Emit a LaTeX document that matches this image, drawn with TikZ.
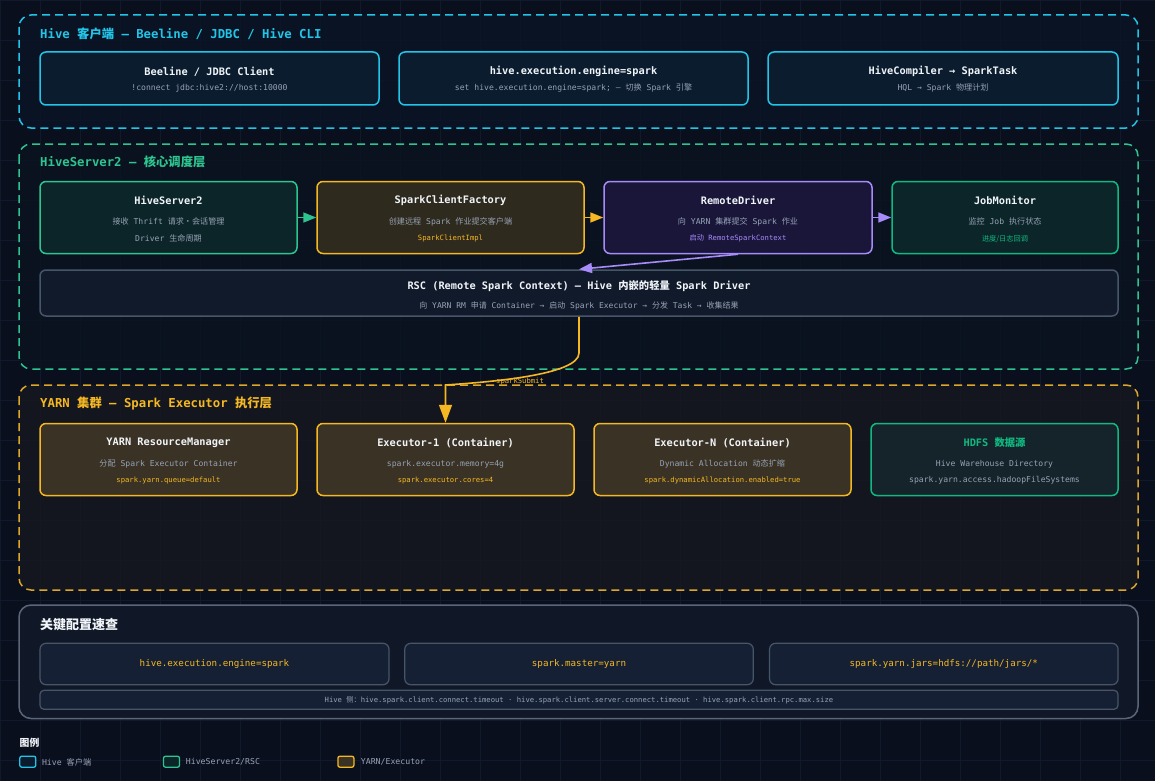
\documentclass[tikz,border=0pt]{standalone}
\usepackage{fontspec}
\setmainfont{DejaVu Sans Mono}
\newfontfamily\cjk{Noto Sans CJK SC}
\newcommand{\zh}[1]{{\cjk #1}}
\usepackage{tikz}
\usetikzlibrary{calc,positioning,arrows.meta}
\definecolor{bgc}{HTML}{0A0F1E}
\definecolor{gridc}{HTML}{111A2C}
\definecolor{cyanc}{HTML}{22C5E8}
\definecolor{greenc}{HTML}{2EC48F}
\definecolor{emeraldc}{HTML}{10B981}
\definecolor{amberc}{HTML}{F5B823}
\definecolor{amberdash}{HTML}{DCA72A}
\definecolor{purplec}{HTML}{A78BFA}
\definecolor{slatec}{HTML}{475569}
\definecolor{slateline}{HTML}{5B6779}
\definecolor{titlec}{HTML}{F1F5F9}
\definecolor{subc}{HTML}{97A3B6}
\definecolor{gonefill}{HTML}{0B1426}
\definecolor{gtwofill}{HTML}{0A1320}
\definecolor{gthreefill}{HTML}{16181F}
\definecolor{gfourfill}{HTML}{101828}
\definecolor{clientfill}{HTML}{0A1C2E}
\definecolor{hsfill}{HTML}{0B2528}
\definecolor{scffill}{HTML}{2F2A1E}
\definecolor{rdfill}{HTML}{19163A}
\definecolor{rscfill}{HTML}{111A2A}
\definecolor{yarnfill}{HTML}{3A3224}
\definecolor{hdfsfill}{HTML}{15242A}
\definecolor{cfgfill}{HTML}{152034}
\tikzstyle{gridline}   = [draw=gridc, line width=0.5pt]
\tikzstyle{group}      = [line width=1.5pt, rounded corners=12pt, dash pattern=on 8pt off 5pt, fill opacity=0.8]
\tikzstyle{card}       = [draw, line width=1.5pt, rounded corners=6pt, inner sep=0pt]
\tikzstyle{grouptitle} = [anchor=west, inner sep=0pt, font=\fontsize{12.3}{14}\selectfont\bfseries]
\tikzstyle{cardtitle}  = [inner sep=0pt, text=titlec, font=\fontsize{10.3}{12}\selectfont\bfseries]
\tikzstyle{cardsub}    = [inner sep=0pt, text=subc, font=\fontsize{8.1}{10}\selectfont]
\tikzstyle{cardnote}   = [inner sep=0pt, font=\fontsize{7.2}{9}\selectfont]
\tikzstyle{cfgtext}    = [inner sep=0pt, text=amberc, font=\fontsize{9.2}{11}\selectfont]
\tikzstyle{swatch}     = [draw, line width=1.3pt, rounded corners=2pt, minimum width=16pt, minimum height=11pt, inner sep=0pt]
\tikzstyle{legendtext} = [anchor=west, inner sep=0pt, text=subc, font=\fontsize{8.2}{10}\selectfont]
\tikzstyle{arrow}      = [line width=1.6pt, -{Triangle[length=13pt,width=10pt]}]

\begin{document}
\begin{tikzpicture}[x=1pt,y=-1pt]
	\useasboundingbox (0,0) rectangle (1155,781);
	\fill[bgc] (0,0) rectangle (1155,781);
	\foreach \g in {0,40,...,1160} {\draw[gridline] (\g,0) -- (\g,781);}
	\foreach \g in {0,40,...,800} {\draw[gridline] (0,\g) -- (1155,\g);}

	% Hive client layer
	\draw[group, draw=cyanc, fill=gonefill] (19,15) rectangle (1138,128);
	\node[grouptitle, text=cyanc] (clientt) at (40,33.5) {Hive \zh{客户端} — Beeline / JDBC / Hive CLI};

	\node[card, draw=cyanc, fill=clientfill, minimum width=339pt, minimum height=53pt] (beeline) at (209.5,78.5) {};
	\node[card, draw=cyanc, fill=clientfill, minimum width=349pt, minimum height=53pt] (engine) at (573.5,78.5) {};
	\node[card, draw=cyanc, fill=clientfill, minimum width=350pt, minimum height=53pt] (compiler) at (943,78.5) {};
	\node[cardtitle] (beelinet) at (209.5,71.5) {Beeline / JDBC Client};
	\node[cardsub] (beelines) at (209.5,88.3) {!connect jdbc:hive2://host:10000};
	\node[cardtitle] (enginet) at (573.5,71.5) {hive.execution.engine=spark};
	\node[cardsub] (engines) at (573.5,88.3) {set hive.execution.engine=spark; — \zh{切换} Spark \zh{引擎}};
	\node[cardtitle] (compilert) at (943,71.5) {HiveCompiler → SparkTask};
	\node[cardsub] (compilers) at (943,88.3) {HQL → Spark \zh{物理计划}};

	% HiveServer2 layer
	\draw[group, draw=greenc, fill=gtwofill] (19,144) rectangle (1138,369);
	\node[grouptitle, text=greenc] (servert) at (40,162) {HiveServer2 — \zh{核心调度层}};

	\node[card, draw=greenc, fill=hsfill, minimum width=257pt, minimum height=72pt] (hs2) at (168.5,217.5) {};
	\node[card, draw=amberc, fill=scffill, minimum width=267pt, minimum height=72pt] (scf) at (450.5,217.5) {};
	\node[card, draw=purplec, fill=rdfill, minimum width=268pt, minimum height=72pt] (rd) at (738,217.5) {};
	\node[card, draw=emeraldc, fill=hsfill, minimum width=226pt, minimum height=72pt] (jm) at (1005,217.5) {};
	\node[cardtitle] (hs2t) at (168.5,200.5) {HiveServer2};
	\node[cardsub] (hs2s) at (168.5,221.7) {\zh{接收} Thrift \zh{请求·会话管理}};
	\node[cardsub] (hs2n) at (168.5,238.7) {Driver \zh{生命周期}};
	\node[cardtitle] (scft) at (450.5,200.5) {SparkClientFactory};
	\node[cardsub] (scfs) at (450.5,221.7) {\zh{创建远程} Spark \zh{作业提交客户端}};
	\node[cardnote, text=amberc] (scfn) at (450.5,238.7) {SparkClientImpl};
	\node[cardtitle] (rdt) at (738,200.5) {RemoteDriver};
	\node[cardsub] (rds) at (738,221.7) {\zh{向} YARN \zh{集群提交} Spark \zh{作业}};
	\node[cardnote, text=purplec] (rdn) at (738,238.7) {\zh{启动} RemoteSparkContext};
	\node[cardtitle] (jmt) at (1005,200.5) {JobMonitor};
	\node[cardsub] (jms) at (1005,221.7) {\zh{监控} Job \zh{执行状态}};
	\node[cardnote, text=emeraldc] (jmn) at (1005,238.7) {\zh{进度/日志回调}};

	\node[card, draw=slatec, fill=rscfill, minimum width=1078pt, minimum height=46pt] (rsc) at (579,293) {};
	\node[cardtitle] (rsct) at (579,286.5) {RSC (Remote Spark Context) — Hive \zh{内嵌的轻量} Spark Driver};
	\node[cardsub, font=\fontsize{8}{10}\selectfont] (rscs) at (579,306) {\zh{向} YARN RM \zh{申请} Container → \zh{启动} Spark Executor → \zh{分发} Task → \zh{收集结果}};

	\draw[arrow, greenc] (hs2.east) -- (scf.west);
	\draw[arrow, amberc] (scf.east) -- (rd.west);
	\draw[arrow, purplec] (rd.east) -- (jm.west);
	\draw[arrow, purplec] (rd.south) -- (rsc.north);

	% YARN layer
	\draw[group, draw=amberdash, fill=gthreefill] (19,385) rectangle (1138,590);
	\node[grouptitle, text=amberc] (yarnt) at (40,403) {YARN \zh{集群} — Spark Executor \zh{执行层}};

	\node[card, draw=amberc, fill=yarnfill, minimum width=257pt, minimum height=72pt] (rm) at (168.5,459.5) {};
	\node[card, draw=amberc, fill=yarnfill, minimum width=257pt, minimum height=72pt] (exone) at (445.5,459.5) {};
	\node[card, draw=amberc, fill=yarnfill, minimum width=257pt, minimum height=72pt] (exn) at (722.5,459.5) {};
	\node[card, draw=emeraldc, fill=hdfsfill, minimum width=247pt, minimum height=72pt] (hdfs) at (994.5,459.5) {};
	\node[cardtitle] (rmt) at (168.5,443) {YARN ResourceManager};
	\node[cardsub] (rms) at (168.5,464) {\zh{分配} Spark Executor Container};
	\node[cardnote, text=amberc] (rmn) at (168.5,480.7) {spark.yarn.queue=default};
	\node[cardtitle] (exonet) at (445.5,443) {Executor-1 (Container)};
	\node[cardsub] (exones) at (445.5,464) {spark.executor.memory=4g};
	\node[cardnote, text=amberc] (exonen) at (445.5,480.7) {spark.executor.cores=4};
	\node[cardtitle] (exnt) at (722.5,443) {Executor-N (Container)};
	\node[cardsub] (exns) at (722.5,464) {Dynamic Allocation \zh{动态扩缩}};
	\node[cardnote, text=amberc] (exnn) at (722.5,480.7) {spark.dynamicAllocation.enabled=true};
	\node[cardtitle, text=emeraldc] (hdfst) at (994.5,443) {HDFS \zh{数据源}};
	\node[cardsub] (hdfss) at (994.5,464) {Hive Warehouse Directory};
	\node[cardsub] (hdfsn) at (994.5,480.7) {spark.yarn.access.hadoopFileSystems};

	\draw[line width=1.6pt, amberc, -{Triangle[length=18pt,width=13pt]}] (rsc.south) -- (579,353) .. controls (579,375) and (490,382) .. (445.5,385) -- (exone.north);
	\node[cardnote, text=amberc] (submit) at (520,382) {sparkSubmit};

	% config quick reference
	\draw[line width=1.5pt, rounded corners=12pt, draw=slateline, fill=gfourfill] (19,605) rectangle (1138,718.5);
	\node[grouptitle, text=titlec, font=\fontsize{13}{15}\selectfont\bfseries] (cfgt) at (40,624.3) {\zh{关键配置速查}};
	\node[card, draw=slatec, fill=cfgfill, line width=1.2pt, minimum width=349pt, minimum height=41.4pt] (cfgone) at (214.5,664) {};
	\node[card, draw=slatec, fill=cfgfill, line width=1.2pt, minimum width=348.5pt, minimum height=41.4pt] (cfgtwo) at (579,664) {};
	\node[card, draw=slatec, fill=cfgfill, line width=1.2pt, minimum width=348.5pt, minimum height=41.4pt] (cfgthree) at (943.8,664) {};
	\node[cfgtext] (cfgonet) at (214.5,664.3) {hive.execution.engine=spark};
	\node[cfgtext] (cfgtwot) at (579,664.3) {spark.master=yarn};
	\node[cfgtext] (cfgthreet) at (943.8,664.3) {spark.yarn.jars=hdfs://path/jars/*};
	\node[card, draw=slatec, fill=cfgfill, line width=1.2pt, rounded corners=4pt, minimum width=1078pt, minimum height=19pt] (strip) at (579,699.8) {};
	\node[cardnote, text=subc] (stript) at (579,700) {Hive \zh{侧：}hive.spark.client.connect.timeout · hive.spark.client.server.connect.timeout · hive.spark.client.rpc.max.size};

	% legend
	\node[anchor=west, inner sep=0pt, text=titlec, font=\fontsize{9.8}{12}\selectfont\bfseries] (legendt) at (19.5,742.7) {\zh{图例}};
	\node[swatch, draw=cyanc, fill=clientfill] (lgone) at (27.8,761.7) {};
	\node[legendtext] (lgonet) at (41.8,762) {Hive \zh{客户端}};
	\node[swatch, draw=greenc, fill=hsfill] (lgtwo) at (171.5,761.7) {};
	\node[legendtext] (lgtwot) at (185.7,762) {HiveServer2/RSC};
	\node[swatch, draw=amberc, fill=yarnfill] (lgthree) at (345.9,761.7) {};
	\node[legendtext] (lgthreet) at (360.7,762) {YARN/Executor};
\end{tikzpicture}
\end{document}
